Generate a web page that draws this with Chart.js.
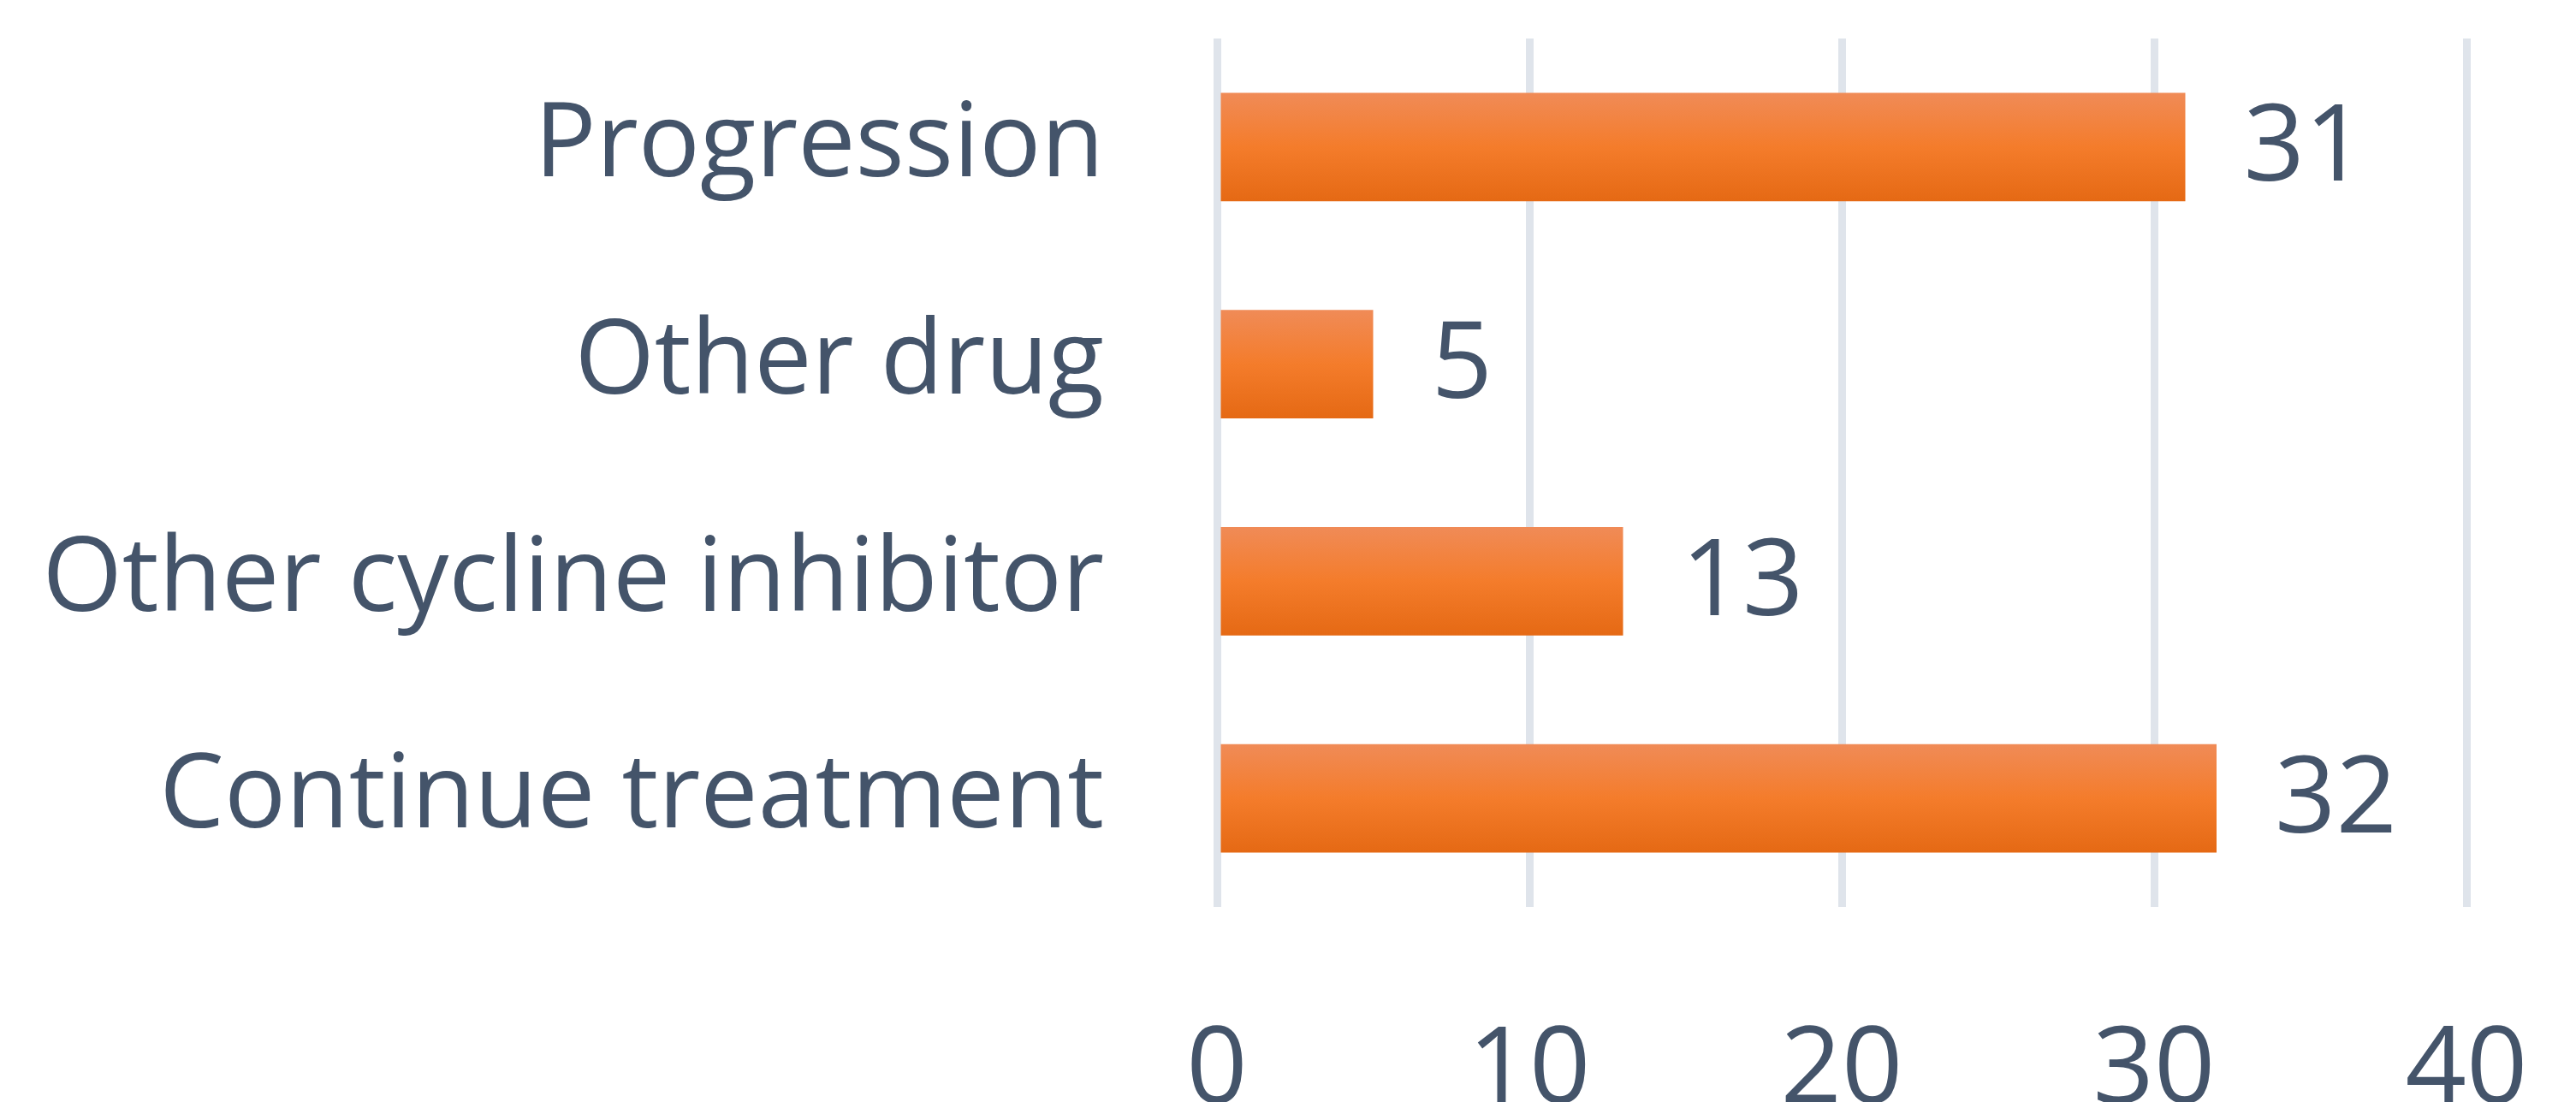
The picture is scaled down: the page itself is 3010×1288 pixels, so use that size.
<!DOCTYPE html>
<html>
<head>
<meta charset="utf-8">
<script src="https://cdn.jsdelivr.net/npm/chart.js@4/dist/chart.umd.min.js"></script>
<style>
  html, body { margin: 0; padding: 0; background: #fff; }
  #wrap { width: 3010px; height: 1288px; }
</style>
</head>
<body>
<div id="wrap"><canvas id="reasonChart" width="3010" height="1288"></canvas></div>
<script>
const categories = ["Progression", "Other drug", "Other cycline inhibitor", "Continue treatment"];
const counts = [31, 5, 13, 32];
const xTicks = [0, 10, 20, 30, 40];

const textColor = "#44546A";
const gridColor = "#dfe4eb";

// gradient per barra (alto chiaro -> basso scuro)
function barGradient(context) {
  const chart = context.chart;
  const yScale = chart.scales.y;
  const area = chart.chartArea;
  if (!area || !yScale || context.dataIndex === undefined) return "#f47b2a";
  const c = yScale.getPixelForValue(context.dataIndex);
  const half = (area.bottom - area.top) / categories.length * 0.25;
  const g = chart.ctx.createLinearGradient(0, c - half, 0, c + half);
  g.addColorStop(0, "#f08b57");
  g.addColorStop(0.5, "#f47c2b");
  g.addColorStop(1, "#e56914");
  return g;
}

// etichette valore a destra delle barre
const valueLabels = {
  id: "valueLabels",
  afterDatasetsDraw(chart) {
    const ctx = chart.ctx;
    const meta = chart.getDatasetMeta(0);
    ctx.save();
    ctx.fillStyle = textColor;
    ctx.font = "125px 'Open Sans'";
    ctx.textAlign = "left";
    ctx.textBaseline = "middle";
    meta.data.forEach((bar, i) => {
      ctx.fillText(String(counts[i]), bar.x + 68, bar.y + 4);
    });
    ctx.restore();
  }
};

const ctx = document.getElementById("reasonChart").getContext("2d");
new Chart(ctx, {
  type: "bar",
  data: {
    labels: categories,
    datasets: [{
      data: counts,
      backgroundColor: barGradient,
      borderWidth: 0,
      barPercentage: 0.5,
      categoryPercentage: 1
    }]
  },
  options: {
    indexAxis: "y",
    responsive: false,
    animation: false,
    layout: { autoPadding: false, padding: { top: 45, right: 128, bottom: 0, left: 0 } },
    plugins: { legend: { display: false }, tooltip: { enabled: false } },
    scales: {
      x: {
        min: 0, max: 40,
        afterBuildTicks: s => { s.ticks = xTicks.map(v => ({ value: v })); },
        afterFit: s => { s.height = 228; s.paddingLeft = 0; s.paddingRight = 0; },
        grid: { color: gridColor, lineWidth: 9, drawTicks: false },
        border: { display: false },
        ticks: { color: textColor, font: { family: "'Open Sans'", size: 125 }, padding: 118 }
      },
      y: {
        afterFit: s => { s.width = 1422; s.paddingTop = 0; s.paddingBottom = 0; },
        grid: { display: false },
        border: { display: false },
        ticks: { color: textColor, font: { family: "'Open Sans'", size: 120 }, padding: 124 }
      }
    }
  },
  plugins: [valueLabels]
});
</script>
</body>
</html>
